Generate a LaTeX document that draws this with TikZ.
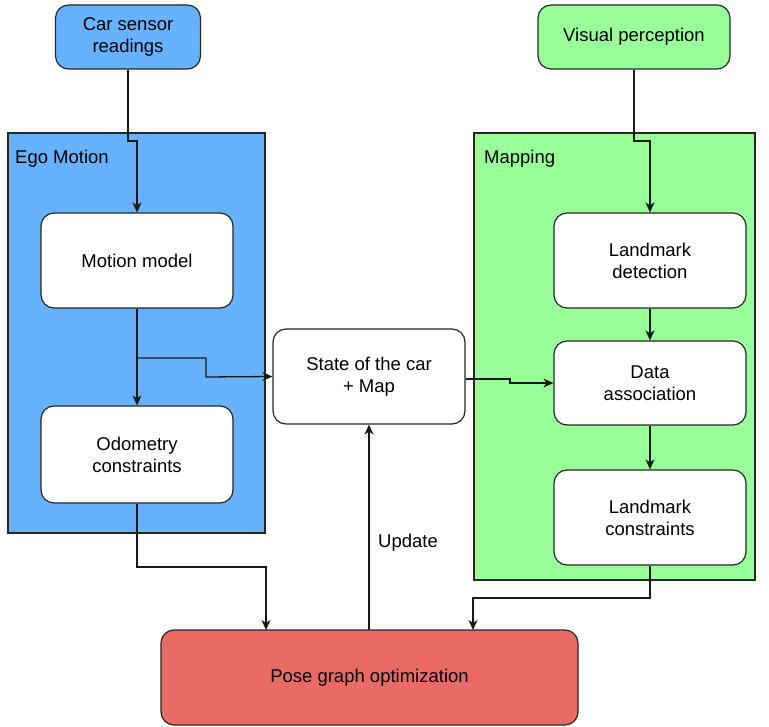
\documentclass[tikz,border=0pt]{standalone}
\usepackage{fontspec}
\setmainfont{Liberation Sans}
\usetikzlibrary{arrows.meta}
\definecolor{egoblue}{HTML}{66B2FF}
\definecolor{mapgreen}{HTML}{99FF99}
\definecolor{posered}{HTML}{EA6B66}
\begin{document}
\begin{tikzpicture}[x=1pt,y=-1pt,
  every node/.style={font=\fontsize{18.5}{22}\selectfont, align=center, inner sep=0pt},
  box/.style={draw=black!85, line width=1.2pt, rounded corners=13pt, fill=white},
  group/.style={draw=black!85, line width=1.2pt},
  conn/.style={draw=black!90, line width=1.3pt},
  arr/.style={conn, -{Stealth[length=10pt,width=9pt,inset=3pt]}}]
\useasboundingbox (0,0) rectangle (769,727);
% containers
\node[group, fill=egoblue, minimum width=257pt, minimum height=400pt] (ego) at (136.5,333) {};
\node[group, fill=mapgreen, minimum width=281pt, minimum height=447pt] (map) at (614.5,356.5) {};
\node[anchor=west] (egolbl) at (15,159) {Ego Motion};
\node[anchor=west] (maplbl) at (484,159) {Mapping};
% boxes
\node[box, fill=egoblue, minimum width=145pt, minimum height=64pt] (car) at (128,37) {Car sensor\\readings};
\node[box, fill=mapgreen, minimum width=192pt, minimum height=64pt] (vis) at (634,37) {Visual perception};
\node[box, minimum width=192pt, minimum height=95pt] (motion) at (137,260.5) {Motion model};
\node[box, minimum width=192pt, minimum height=97pt] (odo) at (137,454.5) {Odometry\\constraints};
\node[box, minimum width=192pt, minimum height=95pt] (state) at (369,376.5) {State of the car\\+ Map};
\node[box, minimum width=192pt, minimum height=95pt] (lmd) at (650,260.5) {Landmark\\detection};
\node[box, minimum width=192pt, minimum height=84pt] (da) at (650,383) {Data\\association};
\node[box, minimum width=192pt, minimum height=95pt] (lmc) at (650,517.5) {Landmark\\constraints};
\node[box, fill=posered, minimum width=417pt, minimum height=95pt] (pose) at (369.5,677.5) {Pose graph optimization};
\node[anchor=west] (upd) at (378,543) {Update};
% junction coordinates
\coordinate (c1) at (128,141);
\coordinate (c2) at (137,141);
\coordinate (v1) at (634,141);
\coordinate (v2) at (650,141);
\coordinate (b1) at (137,358);
\coordinate (b2) at (206,358);
\coordinate (b3) at (206,377);
\coordinate (s1) at (510,379);
\coordinate (s2) at (510,383);
\coordinate (o1) at (137,567);
\coordinate (o2) at (266,567);
\coordinate (o3) at (266,630);
\coordinate (l1) at (650,598);
\coordinate (l2) at (473,598);
\coordinate (l3) at (473,630);
\coordinate (u1) at (369,630);
% connectors
\draw[arr] (car.south) -- (c1) -- (c2) -- (motion.north);
\draw[arr] (vis.south) -- (v1) -- (v2) -- (lmd.north);
\draw[arr] (motion.south) -- (odo.north);
\draw[arr] (b1) -- (b2) -- (b3) -- (state.west);
\draw[arr] (state.east |- s1) -- (s1) -- (s2) -- (da.west);
\draw[arr] (lmd.south) -- (da.north);
\draw[arr] (da.south) -- (lmc.north);
\draw[arr] (odo.south) -- (o1) -- (o2) -- (o3);
\draw[arr] (lmc.south) -- (l1) -- (l2) -- (l3);
\draw[arr] (u1) -- (state.south);
\end{tikzpicture}
\end{document}
